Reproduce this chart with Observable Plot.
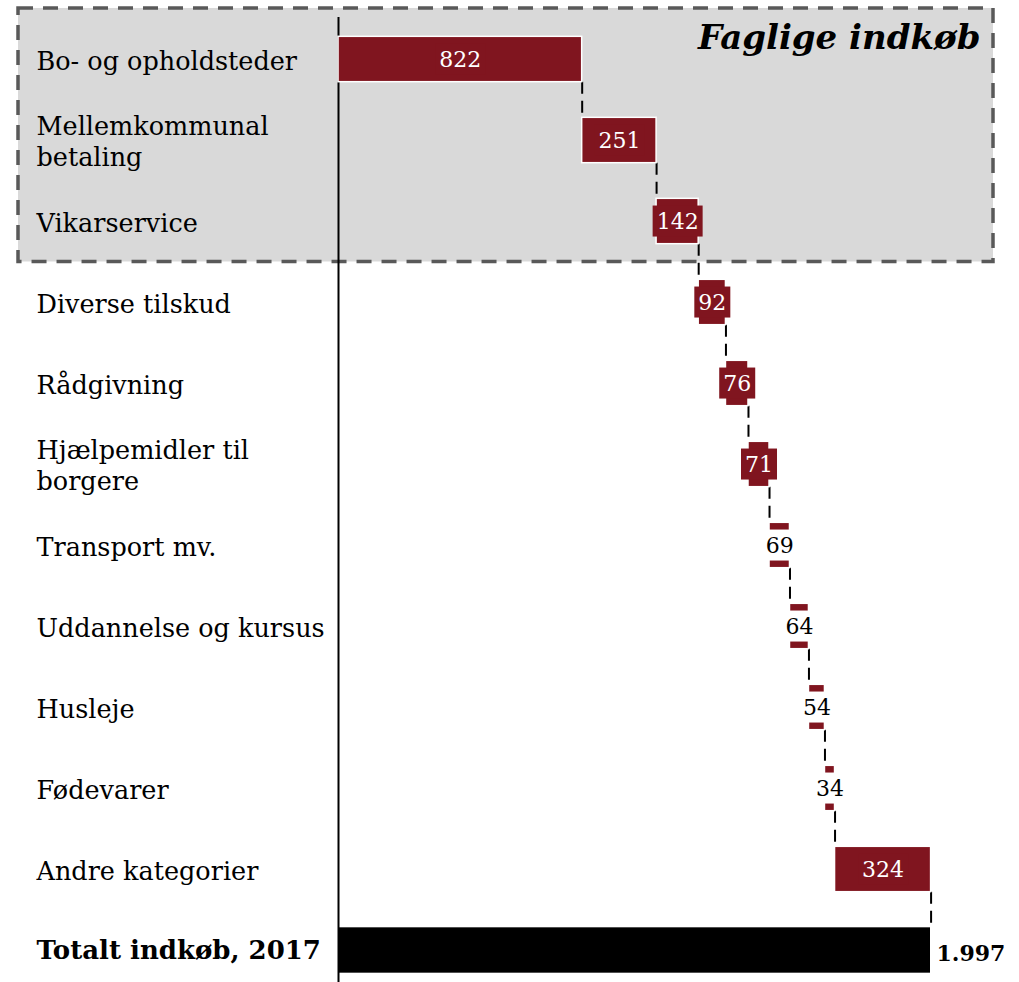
<!DOCTYPE html>
<html><head><meta charset="utf-8">
<script src="https://cdn.jsdelivr.net/npm/d3@7"></script>
<script src="https://cdn.jsdelivr.net/npm/@observablehq/plot@0.6"></script>
<style>body{margin:0;background:#fff} svg{display:block}</style>
</head><body>
<div id="chart"></div>
<script>
// ---- data ----
const categories = ["Bo- og opholdsteder", "Mellemkommunal\nbetaling", "Vikarservice", "Diverse tilskud", "Rådgivning", "Hjælpemidler til\nborgere", "Transport mv.", "Uddannelse og kursus", "Husleje", "Fødevarer", "Andre kategorier"];
const values = [822, 251, 142, 92, 76, 71, 69, 64, 54, 34, 324];
const totalLabel = "Totalt indkøb, 2017";
const totalValue = 1997;
const totalText = "1.997";
const groupTitle = "Faglige indkøb";
const groupCategories = ["Bo- og opholdsteder", "Mellemkommunal\nbetaling", "Vikarservice"];

// ---- derived ----
const RED = "#80151f";
const FONT = "DejaVu Serif";
let acc = 0;
const steps = categories.map((c, i) => { const s = acc; acc += values[i]; return {cat: c, x1: s, x2: acc, value: values[i]}; });
const connectors = steps.map((d, i) => ({x: d.x2, from: d.cat, to: i < steps.length - 1 ? steps[i + 1].cat : totalLabel}));
const totals = [{cat: totalLabel, v: totalValue}];
const yDomain = [...categories, totalLabel];

const W = 1019, H = 982;
const yRange = [18.5, 990.5];
const pIn = 0.44, pOut = 0.22;
let bw;
try {
  bw = Plot.scale({y: {type: "band", domain: yDomain, range: yRange, paddingInner: pIn, paddingOuter: pOut, round: false}}).bandwidth;
} catch (e) {}
if (!bw) { const step = (yRange[1] - yRange[0]) / (yDomain.length - pIn + 2 * pOut); bw = step * (1 - pIn); }

function groupBox(index, scales, channels, dims) {
  const y = scales.y;
  const step = y(yDomain[1]) - y(yDomain[0]);
  const b = y.bandwidth();
  const top = y(groupCategories[0]) - 0.35 * step;
  const last = groupCategories[groupCategories.length - 1];
  const bottom = y(last) + b + (step - b) / 2;
  const left = dims.marginLeft - 320;
  const right = dims.width - 26;
  const g = d3.create("svg:g");
  g.append("rect")
    .attr("x", left).attr("y", top)
    .attr("width", right - left).attr("height", bottom - top)
    .attr("fill", "#d9d9d9")
    .attr("stroke", "#595959").attr("stroke-width", 3.5)
    .attr("stroke-dasharray", "15,10");
  return g.node();
}

const chart = Plot.plot({
  width: W,
  height: H,
  marginLeft: 338,
  marginRight: 89,
  marginTop: 17,
  marginBottom: 0,
  style: {fontFamily: FONT, fontSize: "20px", background: "white", overflow: "visible"},
  x: {domain: [0, totalValue], axis: null},
  y: {type: "band", domain: yDomain, range: yRange, paddingInner: pIn, paddingOuter: pOut, round: false, axis: null},
  marks: [
    groupBox,
    Plot.text([groupTitle], {frameAnchor: "top-right", dx: 50, dy: 7, lineAnchor: "top", text: d => d, fontFamily: FONT, fontSize: 34, fontWeight: "bold", fontStyle: "italic", fill: "black"}),
    Plot.ruleX([0], {stroke: "black", strokeWidth: 2}),
    Plot.ruleX(connectors, {x: "x", y1: "from", y2: "to", insetTop: bw, insetBottom: bw, stroke: "black", strokeWidth: 2, strokeDasharray: "12,7"}),
    Plot.barX(steps, {x1: "x1", x2: "x2", y: "cat", fill: RED, stroke: "white", strokeWidth: 1.5}),
    Plot.barX(totals, {x1: 0, x2: "v", y: "cat", fill: "black"}),
    Plot.text(steps, {x: d => (d.x1 + d.x2) / 2, y: "cat", text: d => String(d.value), fill: d => d.value >= 70 ? "white" : "black", fontFamily: FONT, fontSize: 22, ariaDescription: "value-labels"}),
    Plot.text(totals, {x: "v", y: "cat", text: () => totalText, textAnchor: "start", dx: 6, dy: 3, fontFamily: FONT, fontSize: 22, fontWeight: "bold", fill: "black"}),
    Plot.text(categories, {y: d => d, text: d => d, frameAnchor: "left", textAnchor: "start", dx: -302, fontFamily: FONT, fontSize: 25.5, lineHeight: 1.24, fill: "black"}),
    Plot.text([totalLabel], {y: d => d, text: d => d, frameAnchor: "left", textAnchor: "start", dx: -302, fontFamily: FONT, fontSize: 26, fontWeight: "bold", fill: "black"})
  ]
});
document.getElementById("chart").append(chart);

// label background boxes, sized from the rendered text
let lg = chart.querySelector('g[aria-description="value-labels"]');
if (!lg) {
  for (const g of chart.querySelectorAll("g")) {
    const ts = g.querySelectorAll(":scope > text");
    if (ts.length === steps.length && ts[0].textContent === String(steps[0].value)) { lg = g; break; }
  }
}
if (lg) {
  const texts = Array.from(lg.querySelectorAll(":scope > text"));
  texts.forEach((t, i) => {
    const b = t.getBBox();
    const padX = 4, padY = 3;
    const r = document.createElementNS("http://www.w3.org/2000/svg", "rect");
    r.setAttribute("x", b.x - padX);
    r.setAttribute("y", b.y - padY);
    r.setAttribute("width", b.width + 2 * padX);
    r.setAttribute("height", b.height + 2 * padY);
    r.setAttribute("fill", steps[i].value >= 70 ? RED : "white");
    r.setAttribute("stroke", "none");
    const tr = t.getAttribute("transform");
    if (tr) r.setAttribute("transform", tr);
    lg.insertBefore(r, texts[0]);
  });
}
</script>
</body></html>
